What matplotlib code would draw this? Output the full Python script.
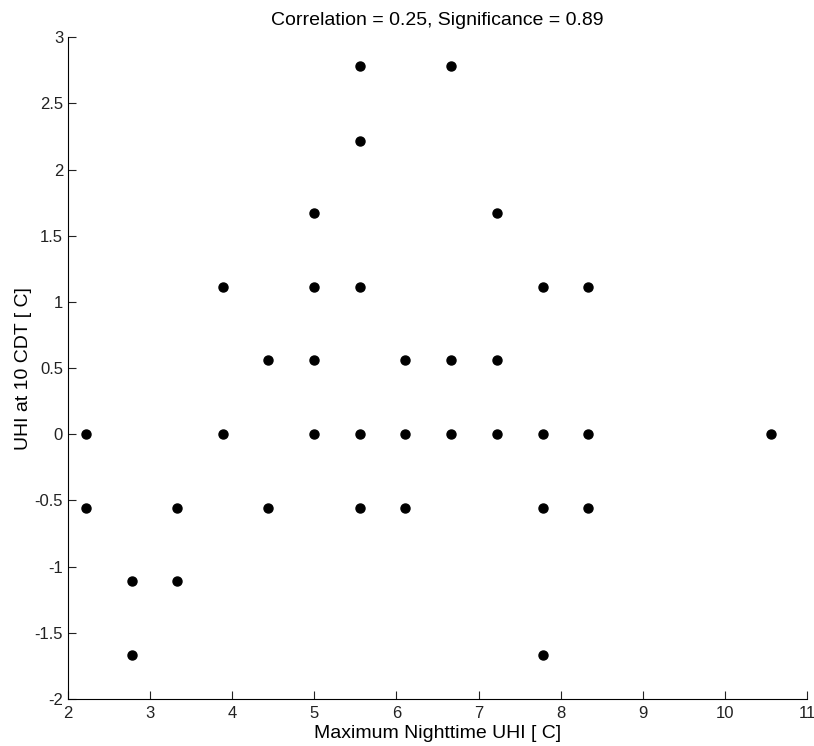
import matplotlib
matplotlib.use("Agg")
import matplotlib.pyplot as plt

# Data (values are multiples of 5/9 C)
xVals = [2.22, 2.22,
         2.78, 2.78,
         3.33, 3.33,
         3.89, 3.89,
         4.44, 4.44,
         5.00, 5.00, 5.00, 5.00,
         5.56, 5.56, 5.56, 5.56, 5.56,
         6.11, 6.11, 6.11,
         6.67, 6.67, 6.67,
         7.22, 7.22, 7.22,
         7.78, 7.78, 7.78, 7.78,
         8.33, 8.33, 8.33,
         10.56]
yVals = [0.00, -0.56,
         -1.11, -1.67,
         -0.56, -1.11,
         1.11, 0.00,
         0.56, -0.56,
         1.67, 1.11, 0.56, 0.00,
         2.78, 2.22, 1.11, 0.00, -0.56,
         0.56, 0.00, -0.56,
         2.78, 0.56, 0.00,
         1.67, 0.56, 0.00,
         1.11, 0.00, -0.56, -1.67,
         1.11, 0.00, -0.56,
         0.00]
xTicks = [2, 3, 4, 5, 6, 7, 8, 9, 10, 11]
yTicks = [-2, -1.5, -1, -0.5, 0, 0.5, 1, 1.5, 2, 2.5, 3]
yTickLabels = ["-2", "-1.5", "-1", "-0.5", "0", "0.5", "1", "1.5", "2", "2.5", "3"]

plt.rcParams['font.family'] = ['Liberation Sans', 'DejaVu Sans']

fig = plt.figure(figsize=(8.14, 7.46), dpi=100)
ax = fig.add_axes([0.0835, 0.063, 0.908, 0.887])

ax.plot(xVals, yVals, 'o', color='black', markersize=6.5, linestyle='none')

ax.set_xlim(2, 11)
ax.set_ylim(-2, 3)
ax.set_xticks(xTicks)
ax.set_xticklabels([str(t) for t in xTicks])
ax.set_yticks(yTicks)
ax.set_yticklabels(yTickLabels)
ax.tick_params(direction='in', length=6, labelsize=12, colors='#222222')
ax.tick_params(axis='x', pad=5)
ax.spines['top'].set_visible(False)
ax.spines['right'].set_visible(False)

ax.set_title("Correlation = 0.25, Significance = 0.89", fontsize=14, pad=9)
ax.set_xlabel("Maximum Nighttime UHI [ C]", fontsize=14, labelpad=3)
ax.set_ylabel("UHI at 10 CDT [ C]", fontsize=14, labelpad=2)

fig.savefig("out.png", dpi=100)
